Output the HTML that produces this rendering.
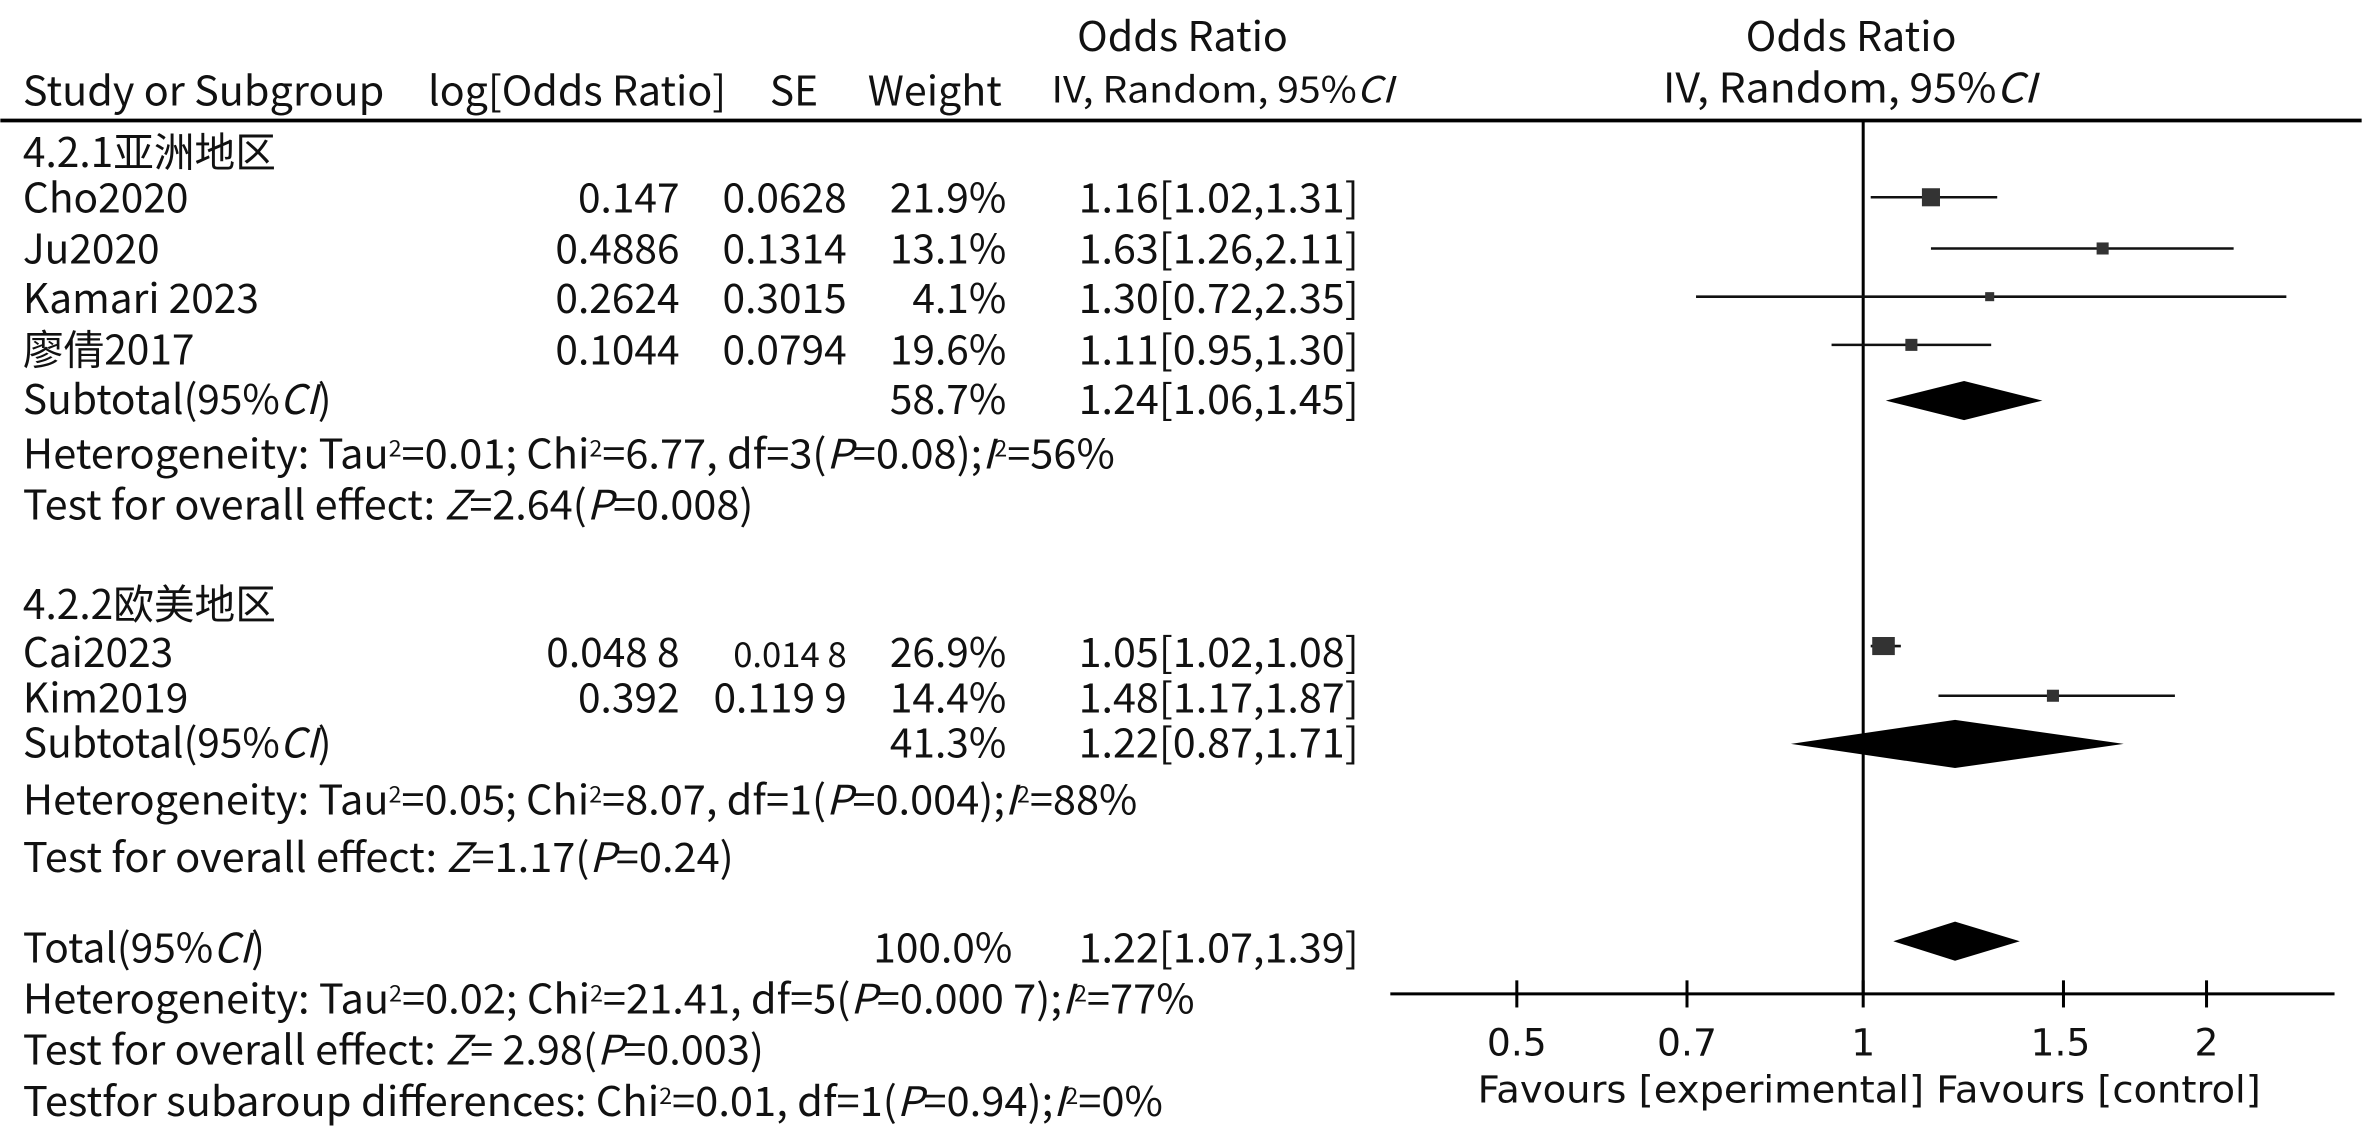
<!DOCTYPE html>
<html><head><meta charset="utf-8"><style>
html,body{margin:0;padding:0;background:#fff;}
svg{display:block}
text{font-family:"Noto Sans CJK SC","Liberation Sans",sans-serif;font-size:27px;fill:#111}
.r{text-anchor:end}
.i{font-style:italic}
.h{font-family:"DejaVu Sans","Liberation Sans",sans-serif;font-size:25px}
</style></head><body>
<svg width="2362" height="1143" viewBox="0 0 1568 759" xmlns="http://www.w3.org/2000/svg">
<rect width="1568" height="759" fill="#fff"/>
<!-- headers -->
<text x="785" y="34" text-anchor="middle" textLength="140" lengthAdjust="spacingAndGlyphs">Odds Ratio</text>
<text x="15" y="70" textLength="240" lengthAdjust="spacingAndGlyphs">Study or Subgroup</text>
<text x="284" y="70" textLength="198" lengthAdjust="spacingAndGlyphs">log[Odds Ratio]</text>
<text x="511" y="70" textLength="32" lengthAdjust="spacingAndGlyphs">SE</text>
<text x="576" y="70" textLength="89" lengthAdjust="spacingAndGlyphs">Weight</text>
<text x="698" y="68" textLength="227" lengthAdjust="spacingAndGlyphs" style="font-size:24px">IV, Random, 95%<tspan class="i">CI</tspan></text>
<text x="1229" y="34" text-anchor="middle" textLength="140" lengthAdjust="spacingAndGlyphs">Odds Ratio</text>
<text x="1104" y="68" textLength="248" lengthAdjust="spacingAndGlyphs">IV, Random, 95%<tspan class="i">CI</tspan></text>
<line x1="0" y1="80" x2="1568" y2="80" stroke="#000" stroke-width="2.5"/>

<!-- subgroup 1 -->
<text x="15" y="111">4.2.1亚洲地区</text>
<text x="15" y="141">Cho2020</text><text class="r" x="451" y="141">0.147</text><text class="r" x="562" y="141">0.0628</text><text class="r" x="668" y="141">21.9%</text><text x="716" y="141" textLength="186" lengthAdjust="spacingAndGlyphs">1.16[1.02,1.31]</text>
<text x="15" y="175">Ju2020</text><text class="r" x="451" y="175">0.4886</text><text class="r" x="562" y="175">0.1314</text><text class="r" x="668" y="175">13.1%</text><text x="716" y="175" textLength="186" lengthAdjust="spacingAndGlyphs">1.63[1.26,2.11]</text>
<text x="15" y="208">Kamari 2023</text><text class="r" x="451" y="208">0.2624</text><text class="r" x="562" y="208">0.3015</text><text class="r" x="668" y="208">4.1%</text><text x="716" y="208" textLength="186" lengthAdjust="spacingAndGlyphs">1.30[0.72,2.35]</text>
<text x="15" y="242">廖倩2017</text><text class="r" x="451" y="242">0.1044</text><text class="r" x="562" y="242">0.0794</text><text class="r" x="668" y="242">19.6%</text><text x="716" y="242" textLength="186" lengthAdjust="spacingAndGlyphs">1.11[0.95,1.30]</text>
<text x="15" y="275">Subtotal(95%<tspan class="i">CI</tspan>)</text><text class="r" x="668" y="275">58.7%</text><text x="716" y="275" textLength="186" lengthAdjust="spacingAndGlyphs">1.24[1.06,1.45]</text>
<text x="15" y="311" textLength="725" lengthAdjust="spacingAndGlyphs">Heterogeneity: Tau<tspan dy="-8" font-size="15">2</tspan><tspan dy="8">=0.01; Chi</tspan><tspan dy="-8" font-size="15">2</tspan><tspan dy="8">=6.77, df=3(</tspan><tspan class="i">P</tspan>=0.08);<tspan class="i">I</tspan><tspan dy="-8" font-size="15">2</tspan><tspan dy="8">=56%</tspan></text>
<text x="15" y="345" textLength="485" lengthAdjust="spacingAndGlyphs">Test for overall effect: <tspan class="i">Z</tspan>=2.64(<tspan class="i">P</tspan>=0.008)</text>

<!-- subgroup 2 -->
<text x="15" y="411">4.2.2欧美地区</text>
<text x="15" y="443">Cai2023</text><text class="r" x="451" y="443">0.048 8</text><text class="r" x="562" y="443" style="font-size:23px">0.014 8</text><text class="r" x="668" y="443">26.9%</text><text x="716" y="443" textLength="186" lengthAdjust="spacingAndGlyphs">1.05[1.02,1.08]</text>
<text x="15" y="473">Kim2019</text><text class="r" x="451" y="473">0.392</text><text class="r" x="562" y="473">0.119 9</text><text class="r" x="668" y="473">14.4%</text><text x="716" y="473" textLength="186" lengthAdjust="spacingAndGlyphs">1.48[1.17,1.87]</text>
<text x="15" y="503">Subtotal(95%<tspan class="i">CI</tspan>)</text><text class="r" x="668" y="503">41.3%</text><text x="716" y="503" textLength="186" lengthAdjust="spacingAndGlyphs">1.22[0.87,1.71]</text>
<text x="15" y="541" textLength="740" lengthAdjust="spacingAndGlyphs">Heterogeneity: Tau<tspan dy="-8" font-size="15">2</tspan><tspan dy="8">=0.05; Chi</tspan><tspan dy="-8" font-size="15">2</tspan><tspan dy="8">=8.07, df=1(</tspan><tspan class="i">P</tspan>=0.004);<tspan class="i">I</tspan><tspan dy="-8" font-size="15">2</tspan><tspan dy="8">=88%</tspan></text>
<text x="15" y="579" textLength="472" lengthAdjust="spacingAndGlyphs">Test for overall effect: <tspan class="i">Z</tspan>=1.17(<tspan class="i">P</tspan>=0.24)</text>

<!-- total -->
<text x="15" y="639">Total(95%<tspan class="i">CI</tspan>)</text><text class="r" x="672" y="639">100.0%</text><text x="716" y="639" textLength="186" lengthAdjust="spacingAndGlyphs">1.22[1.07,1.39]</text>
<text x="15" y="673" textLength="778" lengthAdjust="spacingAndGlyphs">Heterogeneity: Tau<tspan dy="-8" font-size="15">2</tspan><tspan dy="8">=0.02; Chi</tspan><tspan dy="-8" font-size="15">2</tspan><tspan dy="8">=21.41, df=5(</tspan><tspan class="i">P</tspan>=0.000 7);<tspan class="i">I</tspan><tspan dy="-8" font-size="15">2</tspan><tspan dy="8">=77%</tspan></text>
<text x="15" y="707" textLength="492" lengthAdjust="spacingAndGlyphs">Test for overall effect: <tspan class="i">Z</tspan>= 2.98(<tspan class="i">P</tspan>=0.003)</text>
<text x="15" y="741" textLength="757" lengthAdjust="spacingAndGlyphs">Testfor subaroup differences: Chi<tspan dy="-8" font-size="15">2</tspan><tspan dy="8">=0.01, df=1(</tspan><tspan class="i">P</tspan>=0.94);<tspan class="i">I</tspan><tspan dy="-8" font-size="15">2</tspan><tspan dy="8">=0%</tspan></text>

<!-- plot -->
<line x1="1237" y1="80" x2="1237" y2="660" stroke="#000" stroke-width="2"/>
<line x1="923" y1="660" x2="1550" y2="660" stroke="#000" stroke-width="2"/>
<g stroke="#000" stroke-width="2">
<line x1="1007" y1="651" x2="1007" y2="669"/>
<line x1="1120" y1="651" x2="1120" y2="669"/>
<line x1="1237" y1="651" x2="1237" y2="669"/>
<line x1="1370" y1="651" x2="1370" y2="669"/>
<line x1="1465" y1="651" x2="1465" y2="669"/>
</g>
<g text-anchor="middle">
<text class="h" x="1007" y="701">0.5</text>
<text class="h" x="1120" y="701">0.7</text>
<text class="h" x="1237" y="701">1</text>
<text class="h" x="1368" y="701">1.5</text>
<text class="h" x="1465" y="701">2</text>
</g>
<text class="h" x="981" y="732" textLength="520" lengthAdjust="spacingAndGlyphs">Favours [experimental] Favours [control]</text>

<g stroke="#111" stroke-width="1.7">
<line x1="1242" y1="131" x2="1326" y2="131"/>
<line x1="1282" y1="165" x2="1483" y2="165"/>
<line x1="1126" y1="197" x2="1518" y2="197"/>
<line x1="1216" y1="229" x2="1322" y2="229"/>
<line x1="1242" y1="429" x2="1262" y2="429"/>
<line x1="1287" y1="462" x2="1444" y2="462"/>
</g>
<g fill="#333">
<rect x="1276" y="125" width="12" height="12"/>
<rect x="1392" y="161" width="8" height="8"/>
<rect x="1318" y="194" width="6" height="6"/>
<rect x="1265" y="225" width="8" height="8"/>
<rect x="1243" y="423" width="15" height="12"/>
<rect x="1359" y="458" width="8" height="8"/>
</g>
<g fill="#000">
<polygon points="1252,266 1304,253 1356,266 1304,279"/>
<polygon points="1189,494 1298,478 1410,494 1298,510"/>
<polygon points="1257,625 1298,612 1341,625 1298,638"/>
</g>
</svg>
</body></html>
